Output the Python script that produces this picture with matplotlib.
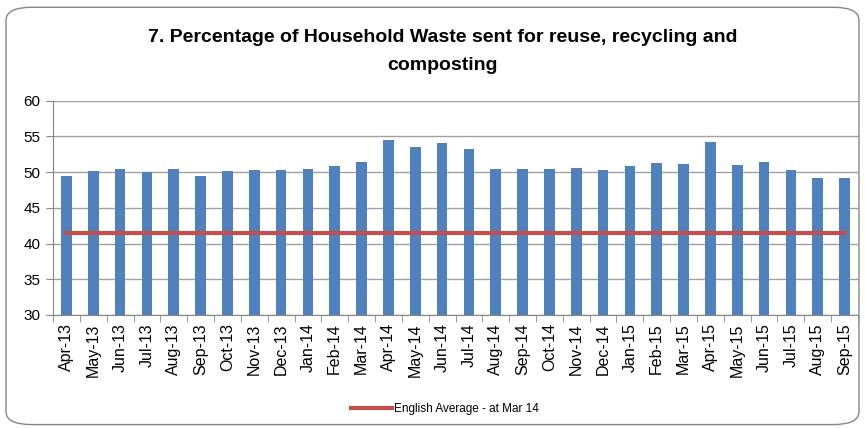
import matplotlib.pyplot as plt
from matplotlib.patches import FancyBboxPatch
import numpy as np

# monthly data
months = ['Apr-13', 'May-13', 'Jun-13', 'Jul-13', 'Aug-13', 'Sep-13', 'Oct-13',
          'Nov-13', 'Dec-13', 'Jan-14', 'Feb-14', 'Mar-14', 'Apr-14', 'May-14',
          'Jun-14', 'Jul-14', 'Aug-14', 'Sep-14', 'Oct-14', 'Nov-14', 'Dec-14',
          'Jan-15', 'Feb-15', 'Mar-15', 'Apr-15', 'May-15', 'Jun-15', 'Jul-15',
          'Aug-15', 'Sep-15']
recycled = [49.4, 50.1, 50.5, 50.0, 50.5, 49.5, 50.1, 50.3, 50.3, 50.5, 50.9,
            51.4, 54.5, 53.5, 54.1, 53.2, 50.5, 50.5, 50.5, 50.6, 50.3, 50.9,
            51.3, 51.2, 54.2, 51.0, 51.4, 50.3, 49.2, 49.2]
english_avg = [41.5] * len(months)

plt.rcParams['font.family'] = ['Liberation Sans', 'DejaVu Sans']

fig = plt.figure(figsize=(8.65, 4.28), dpi=100)
# rounded chart border
fig.patches.append(FancyBboxPatch((0.007, 0.008), 0.986, 0.975,
                                  boxstyle='round,pad=0,rounding_size=0.03',
                                  transform=fig.transFigure, fill=False,
                                  edgecolor='#868686', linewidth=1.0))

ax = fig.add_axes([53/865, 1 - 315/428, (858-53)/865, (315-100.7)/428])
x = np.arange(len(months))
ax.bar(x, np.array(recycled) - 30, bottom=30, width=0.4, color='#4f81bd',
       zorder=2)
ax.plot(x, english_avg, color='#c0504d', linewidth=3, zorder=3,
        label='English Average - at Mar 14')

ax.set_ylim(30, 60)
ax.set_xlim(-0.5, len(months) - 0.5)
ax.set_yticks(range(30, 61, 5))
ax.yaxis.grid(True, color='#a0a0a0', linewidth=1, zorder=0)
ax.set_xticks(x)
ax.set_xticklabels(months, rotation=90, fontsize=11.5)
ax.tick_params(axis='x', length=0, pad=6)
ax.set_xticks(np.arange(-0.5, len(months)), minor=True)
ax.tick_params(axis='x', which='minor', length=5, color='#868686')
ax.tick_params(axis='y', labelsize=11, length=5, color='#868686', pad=4)
for s in ['top', 'right']:
    ax.spines[s].set_visible(False)
for s in ['left', 'bottom']:
    ax.spines[s].set_color('#868686')

fig.text(443/865, 1 - 38/428, '7. Percentage of Household Waste sent for reuse, recycling and',
         ha='center', va='center', fontsize=14, fontweight='bold')
fig.text(443/865, 1 - 66/428, 'composting',
         ha='center', va='center', fontsize=14, fontweight='bold')

fig.legend(loc='center', bbox_to_anchor=(445/865, 1 - 409/428),
           frameon=False, fontsize=8.5, handlelength=3.5, handletextpad=0.2)

fig.savefig('out.png', dpi=100)
